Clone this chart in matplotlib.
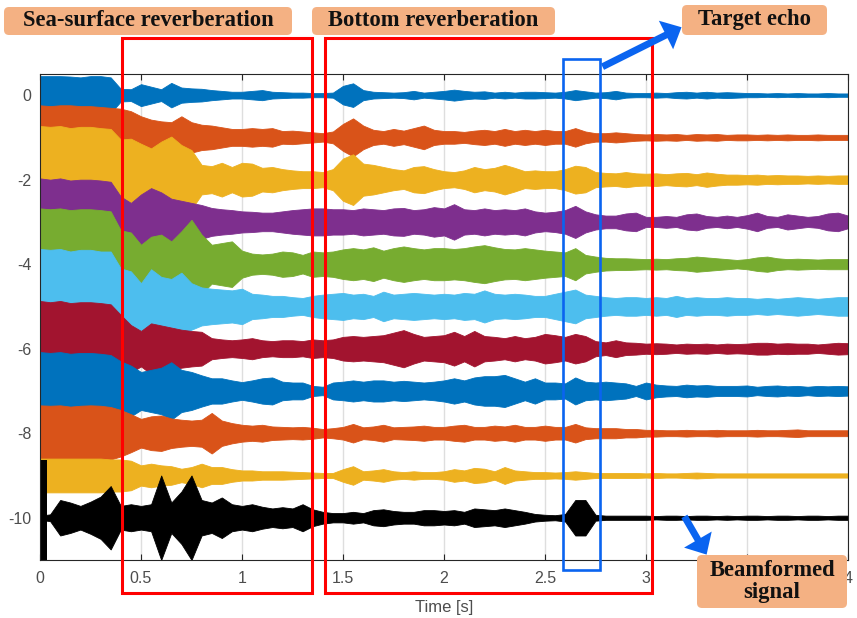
import matplotlib.pyplot as plt
import numpy as np
from matplotlib.patches import Rectangle, FancyBboxPatch, FancyArrowPatch

plt.rcParams['axes.unicode_minus'] = False

# ---- data: envelope half-amplitudes, every 0.05 s from 0 to 4 s ----
t_env = np.linspace(0.0, 4.0, 81)

offsets = [0, -1, -2, -3, -4, -5, -6, -7, -8, -9, -10]
colors = ['#0072BD', '#D95319', '#EDB120', '#7E2F8E', '#77AC30', '#4DBEEE',
          '#A2142F', '#0072BD', '#D95319', '#EDB120', 'k']

env0 = [.45, .45, .45, .44, .42, .45, .45, .42, .15, .14,
        .26, .20, .14, .29, .18, .16, .15, .12, .10, .08,
        .08, .10, .12, .08, .07, .06, .06, .05, .05, .06,
        .22, .28, .12, .08, .07, .06, .07, .10, .06, .08,
        .10, .13, .10, .08, .09, .06, .08, .06, .08, .08,
        .07, .06, .08, .12, .09, .06, .07, .10, .06, .05,
        .05, .06, .05, .07, .08, .06, .08, .06, .07, .06,
        .05, .05, .04, .05, .04, .05, .04, .04, .05, .04,
        .04]
env1 = [.76, .74, .76, .76, .74, .74, .72, .70, .68, .62,
        .50, .42, .38, .36, .50, .36, .30, .28, .24, .20,
        .20, .22, .20, .22, .15, .16, .14, .12, .10, .14,
        .32, .45, .28, .18, .15, .20, .16, .22, .28, .18,
        .15, .15, .13, .16, .18, .15, .20, .15, .18, .15,
        .18, .15, .15, .22, .14, .10, .10, .12, .10, .08,
        .07, .08, .07, .08, .06, .08, .07, .08, .06, .07,
        .07, .06, .07, .06, .07, .06, .06, .07, .06, .06,
        .06]
env2 = [1.27, 1.25, 1.27, 1.22, 1.25, 1.25, 1.22, 1.20, .95, .97,
        .85, .74, .90, 1.02, .82, .70, .35, .32, .40, .30,
        .40, .38, .28, .30, .25, .22, .20, .20, .18, .25,
        .50, .60, .38, .35, .30, .25, .22, .30, .32, .25,
        .20, .18, .22, .30, .25, .28, .35, .28, .20, .22,
        .20, .20, .25, .33, .30, .18, .16, .15, .18, .15,
        .14, .15, .13, .15, .16, .13, .17, .14, .12, .12,
        .11, .12, .10, .11, .10, .10, .09, .10, .09, .10,
        .10]
env3 = [1.03, 1.00, 1.03, .98, 1.00, 1.00, .98, .95, .60, .45,
        .65, .80, .70, .55, .50, .45, .40, .33, .30, .28,
        .25, .24, .22, .22, .25, .28, .30, .32, .32, .30,
        .30, .28, .32, .30, .28, .32, .33, .28, .30, .35,
        .32, .42, .30, .28, .32, .28, .30, .28, .32, .25,
        .22, .24, .28, .38, .25, .18, .15, .15, .20, .22,
        .12, .12, .14, .12, .18, .20, .14, .12, .15, .12,
        .16, .22, .14, .12, .18, .15, .12, .14, .20, .22,
        .15]
env4 = [1.32, 1.30, 1.32, 1.28, 1.30, 1.30, 1.28, 1.25, .80, .75,
        .46, .65, .70, .54, .78, 1.05, .70, .46, .50, .54,
        .32, .25, .23, .25, .30, .28, .22, .30, .28, .30,
        .35, .38, .35, .40, .32, .38, .42, .38, .35, .38,
        .38, .36, .38, .42, .45, .40, .36, .35, .38, .35,
        .32, .30, .28, .38, .22, .18, .15, .14, .14, .13,
        .12, .13, .12, .14, .15, .18, .16, .14, .12, .10,
        .12, .16, .18, .14, .12, .13, .12, .11, .12, .12,
        .12]
env5 = [1.36, 1.34, 1.36, 1.30, 1.34, 1.34, 1.30, 1.30, .90, .83,
        .55, .88, .70, .65, .80, .55, .45, .42, .40, .38,
        .42, .30, .28, .25, .25, .22, .20, .25, .28, .30,
        .32, .28, .30, .25, .35, .28, .30, .32, .30, .28,
        .30, .28, .32, .30, .38, .30, .28, .30, .28, .25,
        .25, .30, .35, .40, .28, .25, .22, .20, .22, .22,
        .20, .22, .20, .25, .20, .22, .20, .20, .22, .20,
        .20, .18, .20, .18, .20, .22, .20, .18, .20, .22,
        .22]
env6 = [1.13, 1.10, 1.13, 1.08, 1.10, 1.10, 1.08, 1.05, .80, .56,
        .42, .60, .55, .50, .45, .42, .40, .25, .22, .20,
        .22, .25, .20, .18, .20, .20, .18, .22, .20, .22,
        .28, .30, .28, .30, .32, .38, .44, .35, .28, .30,
        .32, .40, .30, .42, .30, .28, .25, .30, .25, .28,
        .35, .32, .28, .35, .30, .18, .15, .20, .15, .14,
        .12, .13, .12, .10, .12, .11, .12, .10, .12, .11,
        .12, .14, .14, .12, .13, .12, .12, .10, .12, .14,
        .13]
env7 = [.92, .90, .92, .88, .90, .90, .88, .85, .70, .60,
        .45, .50, .55, .68, .50, .45, .37, .30, .30, .25,
        .21, .25, .30, .32, .22, .20, .20, .12, .10, .20,
        .22, .25, .22, .25, .25, .22, .24, .22, .20, .22,
        .25, .30, .25, .32, .35, .35, .38, .30, .22, .30,
        .20, .20, .18, .32, .22, .20, .22, .20, .18, .12,
        .20, .15, .13, .12, .15, .13, .14, .12, .12, .12,
        .13, .10, .12, .13, .11, .12, .10, .12, .11, .12,
        .11]
env8 = [.66, .65, .66, .63, .65, .66, .65, .62, .55, .45,
        .34, .40, .42, .35, .32, .30, .32, .48, .30, .24,
        .20, .18, .20, .16, .15, .14, .15, .13, .10, .12,
        .15, .22, .14, .16, .20, .14, .15, .16, .18, .15,
        .15, .18, .20, .15, .15, .18, .16, .20, .15, .15,
        .18, .15, .15, .22, .14, .12, .12, .12, .10, .10,
        .08, .08, .07, .07, .08, .07, .07, .08, .07, .07,
        .07, .08, .07, .07, .08, .09, .07, .07, .07, .07,
        .07]
env9 = [.40, .40, .40, .40, .40, .40, .40, .38, .38, .35,
        .24, .28, .24, .22, .16, .20, .28, .20, .20, .15,
        .12, .12, .10, .10, .10, .09, .08, .07, .06, .06,
        .15, .22, .10, .12, .15, .10, .08, .10, .08, .08,
        .10, .15, .12, .18, .16, .10, .20, .12, .10, .08,
        .08, .07, .08, .10, .08, .06, .06, .06, .06, .06,
        .05, .06, .05, .05, .06, .07, .06, .05, .05, .05,
        .05, .05, .05, .05, .05, .05, .05, .05, .05, .05,
        .05]
beam = [.05, .08, .42, .36, .28, .38, .50, .75, .28, .32,
        .28, .32, 1.00, .36, .62, 1.00, .42, .36, .48, .32,
        .28, .32, .26, .22, .25, .22, .32, .20, .14, .11,
        .11, .14, .11, .18, .20, .16, .14, .14, .18, .18,
        .16, .18, .14, .22, .20, .18, .22, .18, .14, .09,
        .07, .06, .09, .42, .42, .07, .05, .05, .05, .05,
        .05, .04, .05, .05, .04, .05, .05, .04, .05, .04,
        .05, .05, .04, .05, .05, .04, .05, .05, .04, .05,
        .05]
# the saturated onset of the beamformed trace
beam_onset_t = [0.005, 0.033]
beam_onset_amp = [1.37, 1.37]

envelopes = [env0, env1, env2, env3, env4, env5, env6, env7, env8, env9, beam]

xticks = [0, 0.5, 1, 1.5, 2, 2.5, 3, 3.5, 4]
xticklabels = ['0', '0.5', '1', '1.5', '2', '2.5', '3', '', '4']   # 3.5 sits under the label box
yticks = [0, -2, -4, -6, -8, -10]

# ---- figure ----
W, H = 857, 618
fig = plt.figure(figsize=(W / 100, H / 100), dpi=100)
ax = fig.add_axes([40 / W, 58 / H, 808 / W, 486 / H])

for k in range(len(envelopes)):
    e = np.array(envelopes[k])
    ax.fill_between(t_env, offsets[k] - e, offsets[k] + e, color=colors[k],
                    linewidth=0.6, edgecolor=colors[k], zorder=2 + k)
ob = np.array(beam_onset_amp)
ax.fill_between(beam_onset_t, -10 - ob, -10 + ob, color='k', linewidth=0, zorder=13)

ax.set_xlim(0, 4)
ax.set_ylim(-11, 0.5)
ax.set_xticks(xticks)
ax.set_xticklabels(xticklabels)
ax.set_yticks(yticks)
ax.grid(axis='x', color='#dedede', linewidth=1.0, zorder=0)
ax.set_axisbelow(True)
ax.tick_params(direction='in', top=True, right=True, length=4, width=0.8,
               labelsize=11.5, colors='#262626', labelcolor='#4d4d4d')
ax.tick_params(axis='x', pad=8)
ax.tick_params(axis='y', pad=6)
for s in ax.spines.values():
    s.set_color('#262626')
    s.set_linewidth(0.8)
    s.set_zorder(20)
for lab in ax.get_xticklabels() + ax.get_yticklabels():
    lab.set_family('Liberation Sans')
ax.set_xlabel('Time [s]', fontsize=12, color='#4d4d4d', family='Liberation Sans', labelpad=10)


def px(x, y):
    # picture pixels (origin top-left) -> inches for dpi_scale_trans
    return x / 100, (H - y) / 100


tr = fig.dpi_scale_trans

# red boxes around the reverberation parts, blue box around the echo
for (x0, y0, x1, y1, c, lw) in [(122, 38, 312, 593, '#ff0000', 2.2),
                                (325, 38, 652, 593, '#ff0000', 2.2),
                                (563, 59, 600, 570, '#0a64f0', 1.9)]:
    a, b = px(x0, y1)
    fig.add_artist(Rectangle((a, b), (x1 - x0) / 100, (y1 - y0) / 100, transform=tr,
                             fill=False, edgecolor=c, linewidth=lw, zorder=30))

# blue arrows
for (p0, p1) in [((600, 68), (684, 26)), ((683, 514), (708, 557))]:
    fig.add_artist(FancyArrowPatch(px(*p0), px(*p1), transform=tr,
                                   arrowstyle='simple,head_length=1.25,head_width=2.3,tail_width=0.5',
                                   mutation_scale=10, color='#0a64f0', linewidth=0, zorder=31))

# orange labels
labels = [('Sea-surface reverberation', 4, 7, 292, 35),
          ('Bottom reverberation', 312, 7, 555, 35),
          ('Target echo', 682, 5, 827, 35),
          ('Beamformed\nsignal', 697, 555, 847, 608)]
for (txt, x0, y0, x1, y1) in labels:
    a, b = px(x0, y1)
    fig.add_artist(FancyBboxPatch((a, b), (x1 - x0) / 100, (y1 - y0) / 100, transform=tr,
                                  boxstyle='round,pad=0,rounding_size=0.05',
                                  facecolor='#f4b183', edgecolor='none', zorder=32))
    cx, cy = px((x0 + x1) / 2, (y0 + y1) / 2)
    fig.text(cx / (W / 100), cy / (H / 100), txt, ha='center', va='center',
             fontsize=16.3, fontweight='bold', family='Liberation Serif',
             linespacing=1.05, color='#111111', zorder=33)

fig.savefig('out.png', dpi=100)
